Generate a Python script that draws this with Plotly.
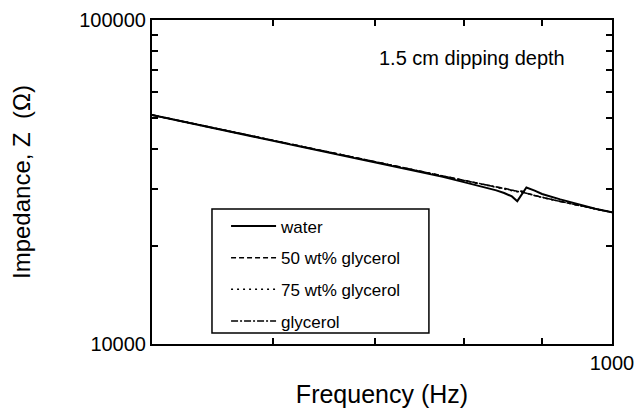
import plotly.graph_objects as go

# Frequency points (Hz)
freq = [500, 525, 550, 575, 600, 625, 650, 675, 700, 725, 750, 775, 800, 825,
        840, 850, 860, 867, 873, 879, 890, 900, 925, 950, 975, 1000]

# Impedance (ohm)
z_water = [50900, 48480, 46270, 44260, 42420, 40720, 39150, 37700, 36360, 35100,
           33930, 32800, 31600, 30500, 29800, 29250, 28550, 27600, 29000, 30400,
           29750, 29050, 27950, 26950, 26150, 25500]
z_50 = [50900, 48500, 46300, 44280, 42450, 40750, 39180, 37740, 36400, 35150,
        34000, 32950, 31950, 31050, 30500, 30250, 29850, 29600, 29650, 29250,
        28750, 28350, 27550, 26820, 26120, 25480]
z_75 = [50850, 48450, 46250, 44250, 42400, 40720, 39160, 37720, 36380, 35130,
        33980, 32920, 31900, 31000, 30450, 30150, 29800, 29500, 29450, 29150,
        28700, 28320, 27520, 26800, 26100, 25470]
z_gly = [50950, 48520, 46310, 44290, 42460, 40760, 39190, 37750, 36410, 35160,
         34020, 32980, 31980, 31080, 30550, 30300, 29900, 29650, 29550, 29200,
         28720, 28330, 27540, 26810, 26110, 25490]

series = [
    ("water", z_water, "solid"),
    ("50 wt% glycerol", z_50, "5px,3px"),
    ("75 wt% glycerol", z_75, "2px,4px"),
    ("glycerol", z_gly, "7px,2px,2px,2px"),
]

x_ticks = [500, 600, 700, 800, 900, 1000]
x_ticktext = ["", "", "", "", "", "1000"]
y_ticks = [10000, 20000, 30000, 40000, 50000, 60000, 70000, 80000, 90000, 100000]
y_ticktext = ["10000", "", "", "", "", "", "", "", "", "100000"]

FONT = "Liberation Sans, Arial, Helvetica, sans-serif"

fig = go.Figure()
for i, (name, z, dash) in enumerate(series):
    fig.add_trace(go.Scatter(
        x=freq, y=z, mode="lines", name=name, legendgroup=str(i),
        line=dict(color="black", width=2 if dash == "solid" else 1.5, dash=dash),
    ))

fig.update_layout(
    width=636, height=408,
    margin=dict(l=152, r=24, t=20, b=64),
    paper_bgcolor="white", plot_bgcolor="white",
    font=dict(family=FONT, color="black", size=18),
    showlegend=True,
    legend=dict(
        x=0.161, y=0.418, xanchor="left", yanchor="top",
        bgcolor="rgba(0,0,0,0)", borderwidth=0,
        font=dict(size=17, family=FONT), tracegroupgap=6.5,
        itemwidth=45,
    ),
    shapes=[dict(
        type="rect", xref="paper", yref="paper",
        x0=0.1304, x1=0.602, y0=0.034, y1=0.417,
        line=dict(color="black", width=1.5), fillcolor="white", layer="above",
    )],
    annotations=[dict(
        text="1.5 cm dipping depth", x=0.696, y=0.883, xref="paper", yref="paper",
        xanchor="center", yanchor="middle",
        showarrow=False, font=dict(size=20, family=FONT),
    )],
)

fig.update_xaxes(
    type="log", range=[2.69897, 3.0], automargin=False,
    tickvals=x_ticks, ticktext=x_ticktext,
    ticks="inside", ticklen=6, tickwidth=1.5, tickcolor="black",
    showline=True, linecolor="black", linewidth=2, mirror="ticks",
    showgrid=False, zeroline=False,
    tickfont=dict(size=20, family=FONT),
    title=dict(text="Frequency (Hz)", font=dict(size=25, family=FONT), standoff=15),
)
fig.update_yaxes(
    type="log", range=[4.0, 5.0], automargin=False,
    tickvals=y_ticks, ticktext=y_ticktext,
    ticks="inside", ticklen=6, tickwidth=1.5, tickcolor="black",
    showline=True, linecolor="black", linewidth=2, mirror="ticks",
    showgrid=False, zeroline=False,
    tickfont=dict(size=20, family=FONT),
    title=dict(text="Impedance, Z  (Ω)", font=dict(size=24, family=FONT), standoff=42),
)

fig.write_html("out.html")
